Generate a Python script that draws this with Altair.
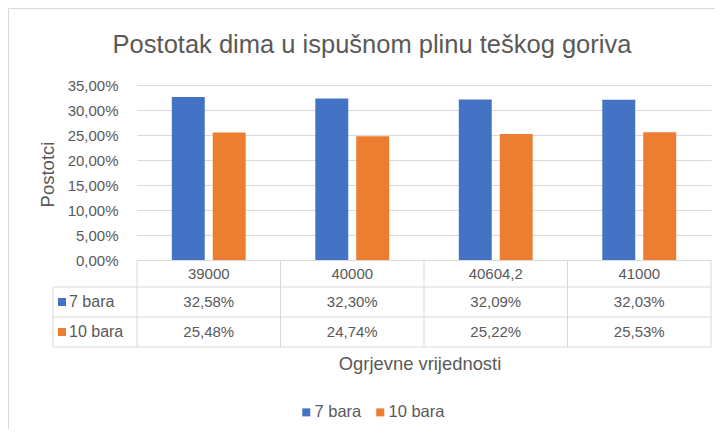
import altair as alt
import pandas as pd

# ---- data ----
categories = ["39000", "40000", "40604,2", "41000"]
series = ["7 bara", "10 bara"]
values_7 = [0.3258, 0.3230, 0.3209, 0.3203]
values_10 = [0.2548, 0.2474, 0.2522, 0.2553]
y_ticks = [0, 0.05, 0.10, 0.15, 0.20, 0.25, 0.30, 0.35]
colors = ["#4472C4", "#ED7D31"]
chart_title = "Postotak dima u ispušnom plinu teškog goriva"
y_title = "Postotci"
x_title = "Ogrjevne vrijednosti"

def pct(v):
    return f"{v * 100:.2f}%".replace(".", ",")

rows = []
for s, vals in zip(series, [values_7, values_10]):
    for c, v in zip(categories, vals):
        rows.append({"cat": c, "series": s, "value": v, "label": pct(v)})
df = pd.DataFrame(rows)
cat_df = pd.DataFrame({"cat": categories})
ser_df = pd.DataFrame({"series": series})

FONT = "Liberation Sans"
GRAY = "#595959"
LINE = "#D9D9D9"
W, H = 574, 175

x_enc = alt.X("cat:N", sort=categories,
              scale=alt.Scale(domain=categories, paddingInner=0, paddingOuter=0),
              axis=None)
color_scale = alt.Scale(domain=series, range=colors)

bars = alt.Chart(df).mark_bar().encode(
    x=x_enc,
    xOffset=alt.XOffset("series:N", sort=series,
                        scale=alt.Scale(domain=series, paddingInner=0.195, paddingOuter=0.85)),
    y=alt.Y("value:Q", scale=alt.Scale(domain=[0, 0.35], nice=False),
            axis=alt.Axis(values=y_ticks,
                          labelExpr="replace(format(datum.value, '.2%'), '.', ',')",
                          grid=True, gridColor=LINE, gridWidth=1,
                          domain=False, ticks=False, tickSize=0, labelPadding=19,
                          labelFont=FONT, labelFontSize=15, labelColor=GRAY,
                          title=y_title, titleFont=FONT, titleFontSize=18.5,
                          titleFontWeight="normal", titleColor=GRAY,
                          titleX=-90, titleY=89, titleAlign="center",
                          titleBaseline="middle")),
    color=alt.Color("series:N", sort=series, scale=color_scale,
                    legend=alt.Legend(orient="none", legendX=161, legendY=319,
                                      direction="horizontal", title=None,
                                      symbolType="square", symbolSize=64,
                                      symbolStrokeWidth=0, padding=0,
                                      labelFont=FONT, labelFontSize=16.5,
                                      labelColor=GRAY, columnPadding=10,
                                      labelOffset=0)),
)

# table header (categories)
header = alt.Chart(cat_df).mark_text(font=FONT, fontSize=15, color=GRAY,
                                     baseline="middle").encode(
    x=x_enc, y=alt.value(188.5), text="cat:N")

row_layers = []
for s, yc in zip(series, [217, 247]):
    sub = df[df["series"] == s]
    row_layers.append(alt.Chart(sub).mark_text(font=FONT, fontSize=15, color=GRAY,
                                               baseline="middle").encode(
        x=x_enc, y=alt.value(yc), text="label:N"))
    key_df = ser_df[ser_df["series"] == s]
    row_layers.append(alt.Chart(key_df).mark_point(shape="square", filled=True,
                                                   size=64, opacity=1).encode(
        x=alt.value(-75), y=alt.value(yc),
        color=alt.Color("series:N", sort=series, scale=color_scale, legend=None)))
    row_layers.append(alt.Chart(key_df).mark_text(font=FONT, fontSize=16, color=GRAY,
                                                  align="left", baseline="middle").encode(
        x=alt.value(-68), y=alt.value(yc), text="series:N"))

# table grid lines
vlines = alt.Chart(cat_df).mark_rule(color=LINE, strokeWidth=1).encode(
    x=alt.X("cat:N", sort=categories, bandPosition=0,
            scale=alt.Scale(domain=categories, paddingInner=0, paddingOuter=0), axis=None),
    y=alt.value(175), y2=alt.value(262))
one = pd.DataFrame({"k": [0]})
vend = alt.Chart(one).mark_rule(color=LINE).encode(
    x=alt.value(W), y=alt.value(175), y2=alt.value(262))
vleft = alt.Chart(one).mark_rule(color=LINE).encode(
    x=alt.value(-84), y=alt.value(202), y2=alt.value(262))
hlines = [alt.Chart(one).mark_rule(color=LINE).encode(
    x=alt.value(-84), x2=alt.value(W), y=alt.value(yy)) for yy in [202, 232, 262]]

# chart border
border = alt.Chart(one).mark_rect(filled=False, stroke=LINE, strokeWidth=1).encode(
    x=alt.value(-128.5), x2=alt.value(700), y=alt.value(-76.5), y2=alt.value(400))

title_mark = alt.Chart(pd.DataFrame({"t": [chart_title]})).mark_text(
    font=FONT, fontSize=25.5, color=GRAY, baseline="middle").encode(
    x=alt.value(235), y=alt.value(-40), text="t:N")
xtitle_mark = alt.Chart(pd.DataFrame({"t": [x_title]})).mark_text(
    font=FONT, fontSize=18.4, color=GRAY, baseline="middle").encode(
    x=alt.value(283), y=alt.value(279), text="t:N")

chart = alt.layer(
    border, vlines, vend, vleft, *hlines, bars, header, *row_layers,
    title_mark, xtitle_mark
).properties(
    width=W, height=H,
    autosize=alt.AutoSizeParams(type="none"),
    padding={"left": 129, "top": 77, "right": 4, "bottom": 169},
).configure_view(strokeWidth=0)

chart.save("out.html", embed_options={"renderer": "svg", "actions": False})
